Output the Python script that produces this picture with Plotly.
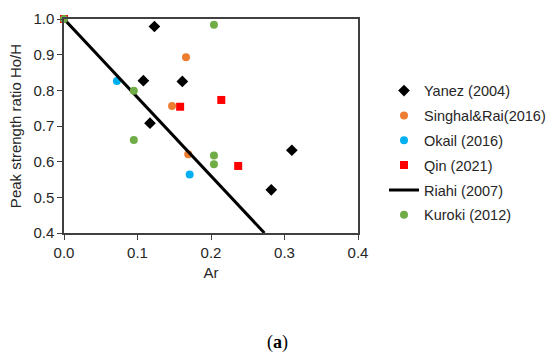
import plotly.graph_objects as go

# Data
yanez_x = [0.123, 0.108, 0.161, 0.117, 0.282, 0.310]
yanez_y = [0.979, 0.827, 0.825, 0.708, 0.521, 0.632]

singhal_x = [0.166, 0.147, 0.169]
singhal_y = [0.893, 0.756, 0.621]

okail_x = [0.072, 0.171]
okail_y = [0.826, 0.564]

qin_x = [0.0, 0.158, 0.214, 0.237]
qin_y = [1.0, 0.754, 0.773, 0.588]

riahi_x = [0.0, 0.2727]
riahi_y = [1.0, 0.4]

kuroki_x = [0.0, 0.204, 0.095, 0.095, 0.204, 0.204]
kuroki_y = [1.0, 0.984, 0.799, 0.661, 0.617, 0.593]

x_ticks = [0.0, 0.1, 0.2, 0.3, 0.4]
y_ticks = [0.4, 0.5, 0.6, 0.7, 0.8, 0.9, 1.0]

FONT = "Liberation Sans, Arial, sans-serif"
AXC = "#404040"
TXT = "#262626"

fig = go.Figure()
fig.add_trace(go.Scatter(x=yanez_x, y=yanez_y, mode="markers", name="Yanez (2004)", cliponaxis=False,
                         marker=dict(symbol="diamond", size=9, color="black"), legendgroup="a"))
fig.add_trace(go.Scatter(x=singhal_x, y=singhal_y, mode="markers", name="Singhal&Rai(2016)", cliponaxis=False,
                         marker=dict(symbol="circle", size=8, color="#ED7D31"), legendgroup="b"))
fig.add_trace(go.Scatter(x=okail_x, y=okail_y, mode="markers", name="Okail (2016)", cliponaxis=False,
                         marker=dict(symbol="circle", size=8, color="#00B0F0"), legendgroup="c"))
fig.add_trace(go.Scatter(x=qin_x, y=qin_y, mode="markers", name="Qin (2021)", cliponaxis=False,
                         marker=dict(symbol="square", size=8, color="#FF0000"), legendgroup="d"))
fig.add_trace(go.Scatter(x=riahi_x, y=riahi_y, mode="lines", name="Riahi (2007)",
                         line=dict(color="black", width=3), legendgroup="e"))
fig.add_trace(go.Scatter(x=kuroki_x, y=kuroki_y, mode="markers", name="Kuroki (2012)", cliponaxis=False,
                         marker=dict(symbol="circle", size=8, color="#70AD47"), legendgroup="f"))

fig.update_layout(
    width=550, height=356,
    margin=dict(l=64, r=192, t=19, b=123),
    paper_bgcolor="white", plot_bgcolor="white",
    font=dict(family=FONT, size=14, color=TXT),
    legend=dict(xref="container", yref="container", x=384 / 550, y=1 - 74.6 / 356,
                xanchor="left", yanchor="top",
                font=dict(family=FONT, size=14.5, color=TXT),
                tracegroupgap=3, bgcolor="rgba(0,0,0,0)", borderwidth=0),
    xaxis=dict(range=[0, 0.4], tickvals=x_ticks, ticktext=[f"{v:.1f}" for v in x_ticks],
               showgrid=False, zeroline=False, showline=True, linecolor=AXC, linewidth=1.5,
               mirror=True, ticks="outside", ticklen=5, tickcolor=AXC, automargin=False,
               tickfont=dict(size=15, color=TXT),
               title=dict(text="Ar", font=dict(size=15, color=TXT), standoff=8)),
    yaxis=dict(range=[0.4, 1.0], tickvals=y_ticks, ticktext=[f"{v:.1f}" for v in y_ticks],
               showgrid=False, zeroline=False, showline=True, linecolor=AXC, linewidth=1.5,
               mirror=True, ticks="outside", ticklen=5, tickcolor=AXC, automargin=False,
               tickfont=dict(size=15, color=TXT),
               title=dict(text="Peak strength ratio Ho/H", font=dict(size=15, color=TXT), standoff=8)),
    annotations=[dict(text="(<b>a</b>)", x=277 / 550, y=1 - 342 / 356,
                      xref="paper", yref="paper", xanchor="center", yanchor="middle",
                      showarrow=False,
                      font=dict(family="Liberation Serif, serif", size=18, color="black"))],
)
# convert the caption position from window pixels to paper fractions
fig.layout.annotations[0].x = (277 - 64) / 294
fig.layout.annotations[0].y = (233 - 342) / 214

fig.write_html("out.html", config={"displayModeBar": False},
               post_script="document.body.style.margin='0';")
